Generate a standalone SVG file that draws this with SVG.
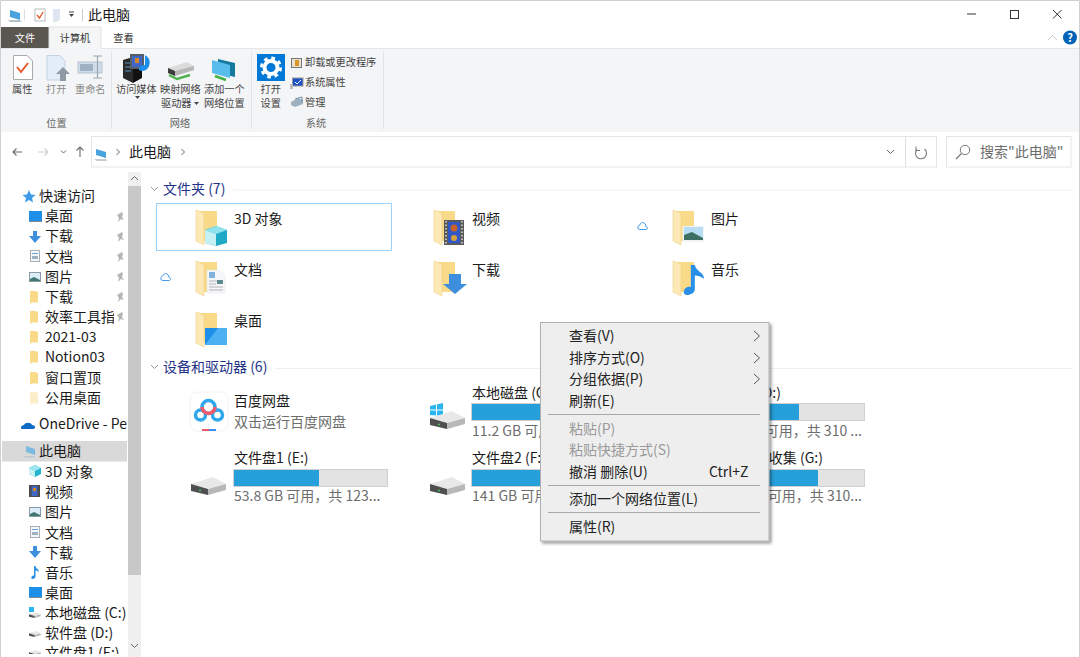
<svg xmlns="http://www.w3.org/2000/svg" width="1080" height="657" viewBox="0 0 1080 657">
<style>
text{font-family:"Noto Sans CJK SC","Noto Sans",sans-serif;fill:#1a1a1a;font-size:14px}
.r{font-size:10.2px;fill:#444}
.rd{font-size:10.2px;fill:#8a8a8a}
.rg{font-size:10.2px;fill:#666;text-anchor:middle}
.h{font-size:14px;fill:#1e3287}
.s{font-size:14px;fill:#6d6d6d}
.m{font-size:14px;fill:#222}
.d{font-size:14px;fill:#9a9a9a}
.ln{stroke:#a8a8a8;stroke-width:1;fill:none}
.ch{fill:none;stroke:#666;stroke-width:1}
.tr{fill:#e3e3e3;stroke:#d0d0d0}
.fl{fill:#26a0da}
.sep{stroke:#e2e3e5;stroke-width:1}
</style>
<defs>
<clipPath id="side"><rect x="0" y="172" width="127" height="482"/></clipPath>
<clipPath id="pin"><rect x="0" y="300" width="114" height="30"/></clipPath>
<symbol id="folder" viewBox="0 0 24 36" width="24" height="36" overflow="visible">
<path d="M1 1H21V31H8L1 30Z" fill="#f9da88"/>
<path d="M0 0L8 3V35L0 31Z" fill="#fce9b5" stroke="#eccb78" stroke-width=".5"/>
</symbol>
<symbol id="drive" viewBox="0 0 36 18" width="36" height="18" preserveAspectRatio="none">
<path d="M0 7L22 0L35 7L17 12Z" fill="#e8e8e8"/>
<path d="M0 7L17 12V18L0 14Z" fill="#4f4f4f"/>
<path d="M17 12L35 7V13L17 18Z" fill="#b8b8b8"/>
<circle cx="9" cy="13.500" r="1" fill="#44c767"/>
</symbol>
<symbol id="sf" viewBox="0 0 9 16" width="8" height="13" preserveAspectRatio="none"><path d="M0 0H7V1H9V14H2L0 16Z" fill="#f9da88"/></symbol>
<symbol id="sdesk" viewBox="0 0 13 11" width="13" height="11"><rect width="13" height="10" fill="#1e90ea"/><rect y="10" width="13" height="1" fill="#888"/></symbol>
<symbol id="sdown" viewBox="0 0 12 12" width="12" height="12"><path d="M4 0H8V5H12L6 12L0 5H4Z" fill="#3d8fde"/></symbol>
<symbol id="sdoc" viewBox="0 0 10 12" width="10" height="12"><rect x=".5" y=".5" width="9" height="11" fill="#f4f6f8" stroke="#a9b0b8"/><rect x="2" y="3" width="6" height="1" fill="#6aa4d6"/><rect x="2" y="6" width="6" height="3" fill="#9ab2c4"/></symbol>
<symbol id="spic" viewBox="0 0 12 10" width="12" height="10"><rect x=".5" y=".5" width="11" height="9" fill="#dcecf8" stroke="#8d99a3"/><path d="M1 7L5 5L11 8V9H1Z" fill="#3f7a70"/></symbol>
<symbol id="s3d" viewBox="0 0 12 12" width="12" height="12"><path d="M6 0L12 3V9L6 12L0 9V3Z" fill="#22b5cf"/><path d="M6 0L12 3L6 6L0 3Z" fill="#9fe6ef"/><path d="M0 3L6 6V12L0 9Z" fill="#c9f2f5"/></symbol>
<symbol id="svid" viewBox="0 0 11 12" width="11" height="12"><rect width="11" height="12" fill="#4b4b4b"/><rect x="2.500" y="1" width="6" height="10" fill="#3f67c8"/><rect x="4" y="3" width="3" height="3" fill="#d9862b"/></symbol>
<symbol id="snote" viewBox="0 0 8 13" width="8" height="13" preserveAspectRatio="none"><path d="M3 0H4.500C5 3 8 3 8 6C7 5 5.500 4.500 4.500 4.500V10.500C4.500 12 3 13 1.500 13C0 13 0 11 1 10C1.500 9.500 2.500 9.300 3 9.500Z" fill="#2a8fe8"/></symbol>
<symbol id="cloud" viewBox="0 0 11 8" width="11" height="8"><path d="M2.500 7.500H9C11 7.500 11 4.500 9 4.500C9 2.500 7.500 .5 5.500 .5C4 .5 3 2 3 3C.5 3 0 7.500 2.500 7.500Z" fill="none" stroke="#3d9be9"/></symbol>
<filter id="sh" x="-5%" y="-5%" width="110%" height="110%"><feDropShadow dx="2" dy="2" stdDeviation="1.500" flood-color="#000" flood-opacity=".4"/></filter>
</defs>

<rect width="1080" height="657" fill="#fff"/>
<path d="M.5 657V.5H1079.500V657" fill="none" stroke="#d0d0d0"/>

<g id="titlebar">
<path d="M10 10L20 13V20L10 17Z" fill="#4aa3df"/><path d="M8 20L20 20L22 22L10 22Z" fill="#b8c2c9"/>
<rect x="24.500" y="9.500" width="0.500" height="11" fill="#bbb"/>
<rect x="35" y="9" width="10" height="12" fill="#fff" stroke="#bbb"/><path d="M37 15L39.500 18L43 12" fill="none" stroke="#e2572b" stroke-width="1.300"/>
<path d="M53 9H60V20L56 22H53Z" fill="#dde6f1"/>
<path d="M69 14H74L71.500 17Z" fill="#444"/><rect x="69" y="11.500" width="5" height="1" fill="#444"/>
<rect x="82" y="9" width="1" height="12" fill="#ccc"/>
<text x="88" y="20">此电脑</text>
<rect x="967" y="13.500" width="9" height="1" fill="#333"/>
<rect x="1010.500" y="10.500" width="8" height="8" fill="none" stroke="#333"/>
<path d="M1053 10L1061.500 18.500M1061.500 10L1053 18.500" stroke="#333" fill="none"/>
<path d="M1048 40L1052.500 35.500L1057 40" fill="none" stroke="#c8c8c8"/>
<circle cx="1070" cy="37.500" r="7" fill="#0063b8"/>
<text x="1070" y="41.500" text-anchor="middle" style="font-size:11px;fill:#fff;font-weight:700">?</text>
</g>

<g id="tabs">
<rect x="1" y="27" width="48" height="21" fill="#5a5650"/>
<text x="25" y="42" text-anchor="middle" style="font-size:10.200px;fill:#fff">文件</text>
<path d="M49 48V27H101V48" fill="#f5f6f7" stroke="#e0e0e0"/>
<text x="75" y="42" text-anchor="middle" style="font-size:10.200px;fill:#333">计算机</text>
<text x="123.500" y="42" text-anchor="middle" style="font-size:10.200px;fill:#333">查看</text>
</g>

<g id="ribbon">
<rect x="1" y="48" width="1078" height="84" fill="#f4f5f7"/>
<path d="M1 48.500H49M101 48.500H1079" stroke="#e3e5e7"/>
<path d="M111.500 51V129M251.500 51V129M383.500 51V129" class="sep"/>
<g id="btn-properties">
<path d="M13.500 55.500H27L32.500 61V79.500H13.500Z" fill="#fff" stroke="#aaa"/>
<path d="M17 67L21 72L28 63" fill="none" stroke="#e8562a" stroke-width="2"/>
<text class="r" x="12" y="93">属性</text>
</g>
<g id="btn-open">
<path d="M47 55.500H60L65 61V80H47Z" fill="#e3edf8" stroke="#c4d3e4"/>
<path d="M63 67L70 74H66V81H60V74H56Z" fill="#8d9aa6"/>
<text class="rd" x="46" y="93">打开</text>
</g>
<g id="btn-rename">
<rect x="78" y="62" width="24" height="11" fill="#cfdcea" stroke="#b7c4d2"/><rect x="80" y="64" width="13" height="7" fill="#9db0c4"/>
<path d="M93 56H102M97.500 56V78M93 78H102" stroke="#9aa5b0" fill="none" stroke-width="1.200"/>
<text class="rd" x="75" y="93">重命名</text>
</g>
<g id="btn-media">
<path d="M123 60L133 57V83L123 78Z" fill="#2a2a2a"/><path d="M133 57L142 60V78L133 83Z" fill="#111"/>
<path d="M125 63H131M125 67H131M125 71H131" stroke="#5d8fc4" stroke-width="1.200"/>
<rect x="130" y="54" width="14" height="15" fill="#55606a"/><rect x="132" y="56" width="10" height="11" fill="#3f67c8"/><rect x="135" y="58" width="4" height="5" fill="#d9862b"/>
<path d="M145 55C150 58 151 63 148 68C146 71 141 72 139 70C138 67 142 65 145 65Z" fill="#1e90ea"/>
<text class="r" x="116" y="93">访问媒体</text>
<path d="M135 96H140L137.500 99Z" fill="#444"/>
</g>
<g id="btn-map">
<path d="M168 68L187 62L194 66V70L175 76L168 73Z" fill="#dcdcdc"/><path d="M168 68L175 71V76L168 73Z" fill="#3c3c3c"/><path d="M175 71L194 66V70L175 76Z" fill="#b8b8b8"/>
<path d="M169 75L177 79L190 75" stroke="#4fb34f" stroke-width="2.500" fill="none"/>
<text class="r" x="160" y="93">映射网络</text>
<text class="r" x="161" y="107">驱动器</text>
<path d="M194 102H199L196.500 105Z" fill="#444"/>
</g>
<g id="btn-net">
<path d="M218 59L235 63V77L218 73Z" fill="#157a9e"/>
<path d="M212 60L230 65V78L212 73Z" fill="#58bdec"/>
<path d="M215 76L226 80" stroke="#45b045" stroke-width="2.500"/>
<text class="r" x="204" y="93">添加一个</text>
<text class="r" x="204" y="107">网络位置</text>
</g>
<g id="btn-settings">
<rect x="257" y="54" width="28" height="27" fill="#0078d7"/>
<circle cx="271" cy="67.500" r="6.500" fill="none" stroke="#fff" stroke-width="4"/>
<circle cx="271" cy="67.500" r="9.500" fill="none" stroke="#fff" stroke-width="3" stroke-dasharray="3.700 3.760"/>
<text class="r" x="260.500" y="93">打开</text>
<text class="r" x="260.500" y="107">设置</text>
</g>
<g id="btn-uninstall">
<rect x="291.500" y="58.500" width="10" height="9" fill="#e8e2d0" stroke="#777"/><rect x="295" y="60" width="4" height="6" fill="#d9962b"/>
<text class="r" x="305" y="66">卸载或更改程序</text>
</g>
<g id="btn-sysprop">
<rect x="292.500" y="78" width="10.500" height="8" fill="#1e50c8" stroke="#999"/><path d="M295 82L297 84L301 80" fill="none" stroke="#fff"/><rect x="290" y="84" width="3" height="5" fill="#bbb"/>
<text class="r" x="305" y="86">系统属性</text>
</g>
<g id="btn-manage">
<path d="M291 102L298 98L303 100V104L295 107L291 105Z" fill="#9fb0bf"/><path d="M295 99L302 97V102" fill="none" stroke="#6f8fa8"/>
<text class="r" x="305" y="106">管理</text>
</g>
<text class="rg" x="56.500" y="127">位置</text>
<text class="rg" x="180" y="127">网络</text>
<text class="rg" x="316" y="127">系统</text>
</g>

<g id="nav">
<path d="M13 152H22M16.500 148.500L13 152L16.500 155.500" fill="none" stroke="#6a6a6a" stroke-width="1.100"/>
<path d="M38 152H48M44.500 148.500L48 152L44.500 155.500" fill="none" stroke="#d0d0d0" stroke-width="1.100"/>
<path d="M61 150.500L63.500 153L66 150.500" class="ch"/>
<path d="M80 157V147M76.500 150.500L80 147L83.500 150.500" fill="none" stroke="#6a6a6a" stroke-width="1.100"/>
<rect x="91.500" y="136.500" width="845" height="30.500" fill="#fff" stroke="#e5e5e5"/>
<path d="M905.500 137V167" stroke="#e0e0e0"/>
<path d="M96 149L106 152V158L96 155Z" fill="#4aa3df"/><path d="M94 159H106L107 161H97Z" fill="#c4ccd2"/>
<path d="M116.500 149L119.500 152L116.500 155" class="ch"/>
<text x="129" y="157">此电脑</text>
<path d="M181.500 149L184.500 152L181.500 155" class="ch"/>
<path d="M887 150L890.500 153.500L894 150" class="ch"/>
<path d="M924.500 149A5.500 5.500 0 1 1 917 149.500" fill="none" stroke="#777" stroke-width="1.100"/><path d="M916 146.500V150.500H920" fill="none" stroke="#777"/>
<rect x="946.500" y="136.500" width="124.500" height="30.500" fill="#fff" stroke="#e5e5e5"/>
<circle cx="965" cy="150" r="4.700" fill="none" stroke="#777"/><path d="M961.500 153.500L956 159" stroke="#777" stroke-width="1.200"/>
<text class="s" x="980" y="157">搜索"此电脑"</text>
</g>

<g id="sidebar">
<g clip-path="url(#side)">
<rect x="2" y="441" width="125" height="20.500" fill="#d9d9d9"/>
<path d="M29 190L31 194.500L35.500 195L32 198L33 202.500L29 200L25 202.500L26 198L22.500 195L27 194.500Z" fill="#3d9be9"/>
<text x="39" y="201">快速访问</text>
<use href="#sdesk" x="29" y="211"/><text x="45" y="221">桌面</text>
<use href="#sdown" x="29" y="231"/><text x="45" y="241">下载</text>
<use href="#sdoc" x="30" y="250"/><text x="45" y="262">文档</text>
<use href="#spic" x="29" y="272"/><text x="45" y="282">图片</text>
<use href="#sf" x="30" y="291"/><text x="45" y="302">下载</text>
<use href="#sf" x="30" y="311"/><text clip-path="url(#pin)" x="45" y="322">效率工具指南</text>
<use href="#sf" x="30" y="331"/><text x="45" y="342">2021-03</text>
<use href="#sf" x="30" y="351"/><text x="45" y="362">Notion03</text>
<use href="#sf" x="30" y="372"/><text x="45" y="383">窗口置顶</text>
<g opacity=".45"><use href="#sf" x="30" y="392"/></g><text x="45" y="403">公用桌面</text>
<path d="M22 429C20 429 21 425 24 425C25 422 31 422 32 425C36 425 36 429 33 429Z" fill="#0f6cc4"/>
<text x="39" y="429">OneDrive - Personal</text>
<path d="M26 446L35 449V455L26 452Z" fill="#7cb9e0"/><path d="M23 456H34L35 457.500H26Z" fill="#bcc5cb"/>
<text x="39" y="456">此电脑</text>
<use href="#s3d" x="29" y="465"/><text x="45" y="477">3D 对象</text>
<use href="#svid" x="29" y="485"/><text x="45" y="497">视频</text>
<use href="#spic" x="29" y="507"/><text x="45" y="517">图片</text>
<use href="#sdoc" x="30" y="526"/><text x="45" y="538">文档</text>
<use href="#sdown" x="29" y="546"/><text x="45" y="558">下载</text>
<use href="#snote" x="31" y="566"/><text x="45" y="578">音乐</text>
<use href="#sdesk" x="29" y="587"/><text x="45" y="598">桌面</text>
<rect x="29" y="607" width="5" height="5" fill="#29b6f0"/><use href="#drive" x="29" y="612" width="12" height="6"/><text x="45" y="618">本地磁盘 (C:)</text>
<use href="#drive" x="29" y="631" width="12" height="6"/><text x="45" y="638">软件盘 (D:)</text>
<use href="#drive" x="29" y="650" width="12" height="6"/><text x="45" y="658">文件盘1 (E:)</text>
</g>
<g fill="#b5b5b5">
<path d="M117 215L122 212L123 214L122 217L124 220L121 219L118 222L119 218Z" id="pin1"/>
<path d="M117 235L122 232L123 234L122 237L124 240L121 239L118 242L119 238Z"/>
<path d="M117 255L122 252L123 254L122 257L124 260L121 259L118 262L119 258Z"/>
<path d="M117 275L122 272L123 274L122 277L124 280L121 279L118 282L119 278Z"/>
<path d="M117 295L122 292L123 294L122 297L124 300L121 299L118 302L119 298Z"/>
<path d="M117 315L122 312L123 314L122 317L124 320L121 319L118 322L119 318Z"/>
</g>
<rect x="128" y="172" width="13" height="485" fill="#f0f0f0"/>
<rect x="128" y="186" width="13" height="389" fill="#c8c8c8"/>
<path d="M131 180L134.500 176.500L138 180" class="ch" stroke-width="1.200"/>
<path d="M131 644L134.500 647.500L138 644" class="ch" stroke-width="1.200"/>
</g>

<g id="content">
<g id="group-folders">
<path d="M151 187L154.500 190.500L158 187" fill="none" stroke="#999"/>
<text class="h" x="163" y="194">文件夹 (7)</text>
<path d="M233 190H1072" stroke="#efefef"/>
</g>
<g id="f-3d">
<rect x="156.500" y="203.500" width="235" height="47" fill="#fff" stroke="#99d1ff"/>
<use href="#folder" x="196" y="210"/>
<path d="M216 226L227 230V243L216 246L205 243V230Z" fill="#1fa9c4"/><path d="M216 226L227 230L216 234L205 230Z" fill="#8fe2ec"/><path d="M205 230L216 234V246L205 243Z" fill="#c5f0f4"/>
<text x="234" y="224">3D 对象</text>
</g>
<g id="f-video">
<use href="#folder" x="434" y="210"/>
<rect x="444" y="220" width="20" height="25" fill="#5a5a5a"/><path d="M446 221V244M462 221V244" stroke="#ddd" stroke-width="1.500" stroke-dasharray="1.500 2"/><rect x="448" y="222" width="12" height="21" fill="#3158c4"/><circle cx="454" cy="228" r="3.500" fill="#c9622a"/><circle cx="454" cy="238" r="3" fill="#d9a33b"/>
<text x="472" y="224">视频</text>
</g>
<g id="f-pic">
<use href="#cloud" x="637" y="222"/>
<use href="#folder" x="673" y="210"/>
<rect x="682.500" y="226" width="21.500" height="16" fill="#f1f5f8"/><rect x="684" y="227" width="19" height="13" fill="#b8dcf3"/><path d="M684 235L692 232L703 238V240H684Z" fill="#3e6f63"/>
<text x="711" y="224">图片</text>
</g>
<g id="f-doc">
<use href="#cloud" x="160" y="273"/>
<use href="#folder" x="196" y="261"/>
<path d="M207 270H219L225 276V293H207Z" fill="#f5f6f7" stroke="#e0e3e6" stroke-width=".5"/><rect x="209" y="272" width="6" height="6" fill="#7fb2df"/><path d="M209 281H223M209 284H216M209 287H223M209 290H223" stroke="#b0b5ba"/><rect x="217" y="280" width="6" height="4" fill="#5d8a8c"/>
<text x="234" y="275">文档</text>
</g>
<g id="f-down">
<use href="#folder" x="434" y="261"/>
<path d="M449 274H461V284H467L455 294L443 284H449Z" fill="#3d8fde"/>
<text x="472" y="275">下载</text>
</g>
<g id="f-music">
<use href="#folder" x="673" y="261"/>
<use href="#snote" x="683" y="265" width="21" height="30"/>
<text x="711" y="275">音乐</text>
</g>
<g id="f-desk">
<use href="#folder" x="196" y="312"/>
<rect x="205" y="328" width="22" height="17" fill="#1e90ea"/><path d="M205 345L218 328H227V345Z" fill="#4db0f2"/>
<text x="234" y="326">桌面</text>
</g>

<g id="group-drives">
<path d="M151 365L154.500 368.500L158 365" fill="none" stroke="#999"/>
<text class="h" x="163" y="372">设备和驱动器 (6)</text>
<path d="M275 368.500H1072" stroke="#efefef"/>
</g>
<g id="d-baidu">
<rect x="190" y="392" width="38" height="39" rx="7" fill="#fff" stroke="#f2f2f2"/>
<circle cx="200.500" cy="415" r="5" fill="none" stroke="#2ea8ea" stroke-width="3.500"/>
<circle cx="217.500" cy="415" r="5" fill="none" stroke="#2ea8ea" stroke-width="3.500"/>
<circle cx="208.500" cy="407" r="6.500" fill="none" stroke="#2ea8ea" stroke-width="3.500"/>
<path d="M202 407A6.500 6.500 0 0 0 215 407" fill="none" stroke="#f2596b" stroke-width="3.500"/>
<rect x="202" y="429" width="7" height="2" fill="#f2596b"/><rect x="209" y="429" width="7" height="2" fill="#3a8ef0"/>
<text x="234" y="406">百度网盘</text>
<text class="s" x="234" y="427">双击运行百度网盘</text>
</g>
<g id="d-c">
<path d="M430 406L443 403V416L430 415Z" fill="#29b6f0"/><path d="M436.500 404.500V416M430 410H443" stroke="#fff" stroke-width="1"/>
<use href="#drive" x="430" y="411"/>
<text x="472" y="398">本地磁盘 (C:)</text>
<rect class="tr" x="471.500" y="403.500" width="155" height="17"/><rect class="fl" x="472" y="404" width="100" height="16"/>
<text class="s" x="472" y="436">11.2 GB 可用</text>
</g>
<g id="d-d">
<use href="#drive" x="668" y="411"/>
<text x="781" y="398" text-anchor="end">软件盘 (D:)</text>
<rect class="tr" x="709.500" y="403.500" width="155" height="17"/><rect class="fl" x="710" y="404" width="89" height="16"/>
<text class="s" x="862" y="436" text-anchor="end">可用，共 310 ...</text>
</g>
<g id="d-e">
<use href="#drive" x="191" y="477"/>
<text x="234" y="463">文件盘1 (E:)</text>
<rect class="tr" x="233.500" y="469.500" width="154" height="17"/><rect class="fl" x="234" y="470" width="85" height="16"/>
<text class="s" x="234" y="501">53.8 GB 可用，共 123...</text>
</g>
<g id="d-f">
<use href="#drive" x="430" y="477"/>
<text x="472" y="463">文件盘2 (F:)</text>
<rect class="tr" x="471.500" y="469.500" width="155" height="17"/><rect class="fl" x="472" y="470" width="100" height="16"/>
<text class="s" x="472" y="501">141 GB 可用</text>
</g>
<g id="d-g">
<text x="823" y="463" text-anchor="end">收集 (G:)</text>
<rect class="tr" x="709.500" y="469.500" width="155" height="17"/><rect class="fl" x="710" y="470" width="108" height="16"/>
<text class="s" x="862" y="501" text-anchor="end">可用，共 310...</text>
</g>
</g>

<g id="menu">
<rect x="540.500" y="322.500" width="228.500" height="218.500" fill="#eeeeee" stroke="#b0b0b0" filter="url(#sh)"/>
<text class="m" x="569" y="341">查看(V)</text>
<text class="m" x="569" y="363">排序方式(O)</text>
<text class="m" x="569" y="384">分组依据(P)</text>
<text class="m" x="569" y="406">刷新(E)</text>
<text class="d" x="569" y="434">粘贴(P)</text>
<text class="d" x="569" y="455">粘贴快捷方式(S)</text>
<text class="m" x="569" y="477">撤消 删除(U)</text>
<text class="m" x="709" y="477">Ctrl+Z</text>
<text class="m" x="569" y="504">添加一个网络位置(L)</text>
<text class="m" x="569" y="532">属性(R)</text>
<path d="M754 331L759.500 336L754 341M754 353L759.500 358L754 363M754 374L759.500 379L754 384" fill="none" stroke="#555"/>
<path d="M548 414.500H760M548 485.500H760M548 512.500H760" class="ln"/>
</g>
</svg>
